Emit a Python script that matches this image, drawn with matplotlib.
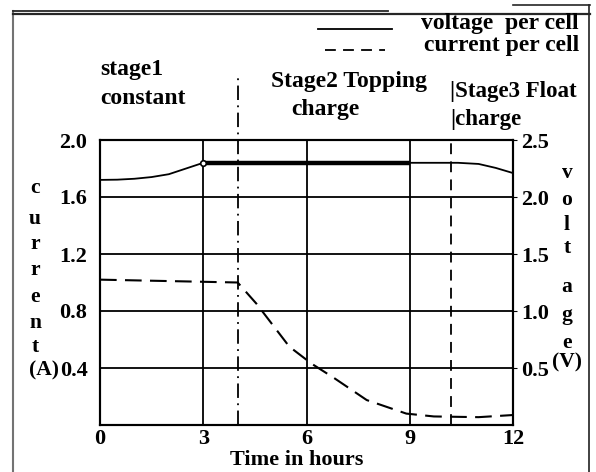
import matplotlib
matplotlib.use('Agg')
import matplotlib.pyplot as plt
from matplotlib.lines import Line2D
import numpy as np

plt.rcParams['font.family'] = ['Liberation Serif', 'DejaVu Serif']
plt.rcParams['font.weight'] = 'bold'

# ---------------- data ----------------
hours_ticks = [0, 3, 6, 9, 12]
current_ticks = [0.4, 0.8, 1.2, 1.6, 2.0]
voltage_ticks = [0.5, 1.0, 1.5, 2.0, 2.5]

voltage_t = [0, 0.5, 1.0, 1.5, 2.0, 2.5, 3.0, 9.0, 10.4, 11.0, 11.5, 12.0]
voltage_v = [2.15, 2.152, 2.16, 2.175, 2.20, 2.25, 2.30, 2.30, 2.30, 2.29, 2.255, 2.21]

current_t = [0, 4.0, 4.55, 5.5, 6.15, 6.8, 7.75, 8.9, 9.7, 11.0, 12.0]
current_a = [1.02, 1.0, 0.85, 0.55, 0.43, 0.33, 0.175, 0.08, 0.06, 0.055, 0.07]

stage_bounds = [4.0, 10.2]
left_label = list("current") + ["(A)"]
right_label = list("voltage") + ["(V)"]

# ---------------- layout ----------------
W, H = 596, 472
fig = plt.figure(figsize=(W / 100, H / 100), dpi=100)


def fx(x):
    return x / W


def fy(y):
    return 1 - y / H


ax = fig.add_axes([fx(100), fy(425), fx(513) - fx(100), fy(140) - fy(425)])
ax.set_xlim(0, 12)
ax.set_ylim(0, 2.0)
ax2 = ax.twinx()
ax2.set_ylim(0, 2.5)

ax.set_xticks(hours_ticks)
ax.set_xticklabels([str(h) for h in hours_ticks])
ax.set_yticks(current_ticks)
ax.set_yticklabels([f"{c:.1f}" for c in current_ticks])
ax2.set_yticks(voltage_ticks)
ax2.set_yticklabels([f"{v:.1f}" for v in voltage_ticks])

ax.grid(True, color='black', lw=1.3)
ax.set_axisbelow(True)
for a in (ax, ax2):
    for s in a.spines.values():
        s.set_color('black')
        s.set_linewidth(1.5)
ax.tick_params(axis='x', length=0, labelsize=16, pad=3)
ax.tick_params(axis='y', length=0, labelsize=16, pad=9)
ax2.tick_params(axis='y', length=3, labelsize=16, pad=3)

# voltage (solid)
vt = np.array(voltage_t)
vv = np.array(voltage_v)
ax2.plot(vt, vv, color='black', lw=1.3)
m = (vt >= 3.0) & (vt <= 9.0)
ax2.plot(vt[m], vv[m], color='black', lw=3.2, solid_capstyle='butt')
ax2.plot(vt[6], vv[6], 'o', mfc='white', mec='black', ms=4, mew=1.2)

# current (dashed)
ax.plot(current_t, current_a, color='black', lw=1.5, dashes=(8, 4))

# stage boundaries
ax.axvline(stage_bounds[0], ymin=0, ymax=1.2175, clip_on=False, color='black',
           lw=1.3, dashes=(8, 3, 1, 3))
ax.axvline(stage_bounds[1], ymin=0, ymax=1.0, color='black', lw=1.3, dashes=(6, 4))

fs = 17
# axis labels
fig.text(fx(297), fy(460), "Time in hours", ha='center', va='center', fontsize=16)
left_y = [188, 219, 244, 270, 297, 323, 347, 370]
for ch, y in zip(left_label, left_y):
    fig.text(fx(44) if ch == "(A)" else fx(35), fy(y), ch, ha='center', va='center', fontsize=15.5)
right_y = [173, 200, 225, 248, 287, 315, 343, 362]
for ch, y in zip(right_label, right_y):
    fig.text(fx(567), fy(y), ch, ha='center', va='center', fontsize=15.5)

# stage labels
fig.text(fx(100), fy(70), "stage1", ha='left', va='center', fontsize=fs)
fig.text(fx(100), fy(99), "constant", ha='left', va='center', fontsize=fs)
fig.text(fx(349), fy(82), "Stage2 Topping", ha='center', va='center', fontsize=fs)
fig.text(fx(325), fy(109), "charge", ha='center', va='center', fontsize=fs)
fig.text(fx(450), fy(91), "|Stage3 Float", ha='left', va='center', fontsize=fs - 0.5)
fig.text(fx(450), fy(119), "|charge", ha='left', va='center', fontsize=fs - 0.5)

# legend
fig.add_artist(Line2D([fx(318), fx(392)], [fy(29), fy(29)], color='black', lw=1.3))
fig.text(fx(579), fy(23), "voltage  per cell", ha='right', va='center', fontsize=fs)
fig.add_artist(Line2D([fx(325), fx(385)], [fy(50), fy(50)], color='black', lw=1.3,
                      dashes=(6, 4)))
fig.text(fx(579), fy(46), "current per cell", ha='right', va='center', fontsize=fs)

# frame
fig.add_artist(Line2D([fx(13), fx(13)], [fy(11), 0], color='0.45', lw=1.5))
fig.add_artist(Line2D([fx(589), fx(589)], [fy(5), 0], color='0.2', lw=1.3))
fig.add_artist(Line2D([fx(13), fx(590)], [fy(14), fy(14)], color='0.15', lw=1.6))
fig.add_artist(Line2D([fx(13), fx(388)], [fy(11), fy(11)], color='0.15', lw=1.3))
fig.add_artist(Line2D([fx(513), fx(590)], [fy(5), fy(5)], color='0.15', lw=1.2))

fig.savefig("out.png", dpi=100)
